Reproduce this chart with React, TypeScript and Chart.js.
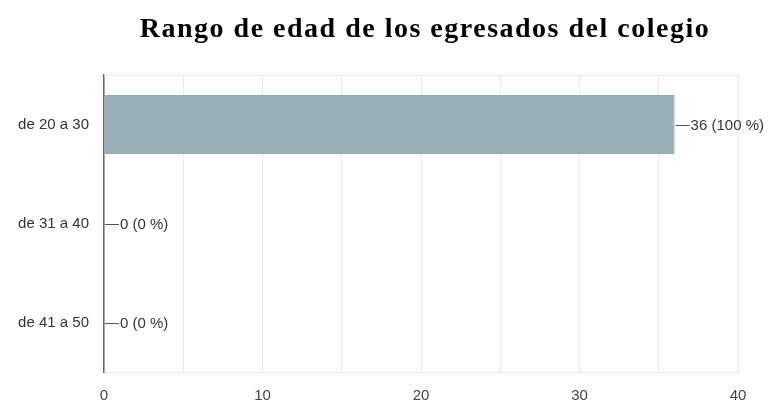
import React, { useEffect, useRef } from "react";
import { Chart, registerables } from "chart.js";

Chart.register(...registerables);

const TITLE = "Rango de edad de los egresados del colegio";
const categories = ["de 20 a 30", "de 31 a 40", "de 41 a 50"];
const counts = [36, 0, 0];
const xMax = 40;
const gridStep = 5;
const labelStep = 10;

const titlePlugin = {
  id: "customTitle",
  afterDraw(chart: any) {
    const { ctx, chartArea } = chart;
    ctx.save();
    ctx.font = "bold 28px 'Liberation Serif', 'Times New Roman', serif";
    try {
      (ctx as any).letterSpacing = "1.5px";
    } catch (e) {}
    ctx.fillStyle = "#000";
    ctx.textAlign = "center";
    ctx.textBaseline = "alphabetic";
    ctx.fillText(TITLE, (chartArea.left + chartArea.right) / 2 + 4, 37);
    ctx.restore();
  },
};

const frameTopPlugin = {
  id: "frameTop",
  beforeDatasetsDraw(chart: any) {
    const { ctx, chartArea } = chart;
    ctx.save();
    ctx.strokeStyle = "#ebebeb";
    ctx.lineWidth = 1;
    ctx.beginPath();
    ctx.moveTo(chartArea.left, chartArea.top + 0.5);
    ctx.lineTo(chartArea.right, chartArea.top + 0.5);
    ctx.stroke();
    ctx.restore();
  },
};

const valueLabelPlugin = {
  id: "valueLabels",
  afterDatasetsDraw(chart: any) {
    const { ctx } = chart;
    const total = counts.reduce((a, b) => a + b, 0);
    const meta = chart.getDatasetMeta(0);
    ctx.save();
    ctx.font = "15px 'Liberation Sans', Arial, sans-serif";
    ctx.fillStyle = "#333";
    ctx.strokeStyle = "#555";
    ctx.lineWidth = 1;
    ctx.textBaseline = "middle";
    ctx.textAlign = "left";
    meta.data.forEach((el: any, i: number) => {
      const v = counts[i];
      const pct = total ? Math.round((v / total) * 100) : 0;
      const x0 = el.x + 1;
      const y = Math.round(el.y) + 0.5;
      ctx.beginPath();
      ctx.moveTo(x0, y);
      ctx.lineTo(x0 + 14, y);
      ctx.stroke();
      ctx.fillText(`${v} (${pct} %)`, x0 + 15, y);
    });
    ctx.restore();
  },
};

export default function App() {
  const ref = useRef<HTMLCanvasElement | null>(null);

  useEffect(() => {
    document.body.style.margin = "0";
    document.body.style.overflow = "hidden";
    if (!ref.current) return;
    const chart = new Chart(ref.current, {
      type: "bar",
      data: {
        labels: categories,
        datasets: [
          {
            data: counts,
            backgroundColor: "#9bafb7",
            borderColor: "#7693a0",
            borderWidth: 1,
            borderSkipped: "left",
            barPercentage: 0.6,
            categoryPercentage: 1,
          },
        ],
      },
      options: {
        indexAxis: "y",
        animation: false,
        responsive: true,
        maintainAspectRatio: false,
        layout: { padding: { top: 75, right: 31, left: 0, bottom: 0 } },
        plugins: {
          legend: { display: false },
          title: { display: false },
          tooltip: { enabled: false },
        },
        scales: {
          x: {
            min: 0,
            max: xMax,
            ticks: {
              stepSize: gridStep,
              padding: 15,
              color: "#444",
              font: { size: 15, family: "'Liberation Sans', Arial, sans-serif" },
              callback: (v: any) => (Number(v) % labelStep === 0 ? String(v) : ""),
              maxRotation: 0,
              autoSkip: false,
            },
            grid: { color: "#ebebeb", drawTicks: false },
            border: { display: true, color: "#ebebeb" },
            afterFit: (s: any) => {
              s.height = 29;
            },
          },
          y: {
            ticks: {
              padding: 15,
              color: "#333",
              font: { size: 15, family: "'Liberation Sans', Arial, sans-serif" },
            },
            grid: { display: false, drawTicks: false },
            border: { display: true, color: "#666", width: 1.5 },
            afterFit: (s: any) => {
              s.width = 104;
            },
          },
        },
      },
      plugins: [titlePlugin, frameTopPlugin, valueLabelPlugin],
    });
    return () => chart.destroy();
  }, []);

  return (
    <div style={{ position: "relative", width: "769px", height: "401px" }}>
      <canvas ref={ref} />
    </div>
  );
}
